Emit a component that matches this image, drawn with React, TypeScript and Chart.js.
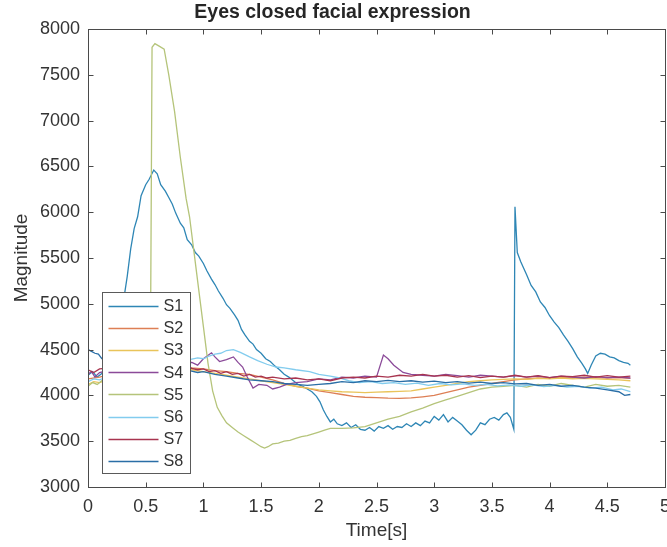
import React, { useEffect, useRef } from 'react';
import { Chart, registerables } from 'chart.js';

Chart.register(...registerables);

const TITLE = 'Eyes closed facial expression';
const X_LABEL = 'Time[s]';
const Y_LABEL = 'Magnitude';
const SERIES_NAMES = ['S1', 'S2', 'S3', 'S4', 'S5', 'S6', 'S7', 'S8'];
const SERIES_COLORS = ['#2e86b5', '#dd7f55', '#e9c45a', '#8b4a99', '#b5c47a', '#82ccee', '#a8344f', '#2a6ea6'];
const X_TICKS = [0, 0.5, 1, 1.5, 2, 2.5, 3, 3.5, 4, 4.5, 5];
const Y_TICKS = [3000, 3500, 4000, 4500, 5000, 5500, 6000, 6500, 7000, 7500, 8000];

// [time (s), magnitude]
const S1: number[][] = [[0,4220],[0.04,4260],[0.08,4200],[0.12,4240],[0.16,4280],[0.2,4330],[0.24,4500],[0.28,4800],[0.31,5050],[0.34,5300],[0.37,5600],[0.4,5820],[0.43,5950],[0.46,6180],[0.5,6300],[0.53,6360],[0.57,6460],[0.6,6420],[0.63,6300],[0.67,6230],[0.7,6160],[0.73,6090],[0.76,5990],[0.8,5880],[0.83,5830],[0.86,5700],[0.9,5640],[0.93,5560],[0.96,5520],[1.0,5440],[1.03,5360],[1.07,5270],[1.1,5210],[1.13,5140],[1.17,5060],[1.2,4990],[1.23,4950],[1.27,4880],[1.3,4820],[1.33,4720],[1.36,4660],[1.4,4590],[1.43,4560],[1.46,4500],[1.5,4460],[1.54,4400],[1.58,4370],[1.62,4320],[1.66,4280],[1.7,4230],[1.74,4200],[1.78,4160],[1.82,4120],[1.86,4100],[1.9,4070],[1.94,4040],[1.98,3990],[2.01,3930],[2.04,3840],[2.07,3770],[2.1,3710],[2.13,3740],[2.16,3690],[2.2,3670],[2.24,3700],[2.28,3650],[2.32,3680],[2.36,3630],[2.4,3620],[2.44,3650],[2.48,3610],[2.52,3660],[2.56,3640],[2.6,3670],[2.64,3630],[2.68,3660],[2.72,3650],[2.76,3690],[2.8,3660],[2.84,3700],[2.88,3670],[2.92,3720],[2.96,3700],[3.0,3770],[3.04,3730],[3.08,3790],[3.12,3710],[3.16,3760],[3.2,3720],[3.24,3680],[3.28,3620],[3.32,3570],[3.36,3620],[3.4,3700],[3.44,3680],[3.48,3740],[3.52,3760],[3.56,3730],[3.6,3790],[3.63,3810],[3.66,3760],[3.69,3630],[3.7,6060],[3.72,5560],[3.75,5460],[3.8,5320],[3.84,5200],[3.88,5130],[3.92,5020],[3.96,4960],[4.0,4870],[4.04,4800],[4.08,4740],[4.12,4660],[4.16,4590],[4.2,4510],[4.24,4420],[4.28,4350],[4.31,4290],[4.33,4240],[4.36,4330],[4.4,4430],[4.44,4460],[4.48,4450],[4.52,4420],[4.56,4410],[4.6,4380],[4.64,4360],[4.68,4350],[4.7,4330]];
const S2: number[][] = [[0,4180],[0.1,4200],[0.2,4230],[0.3,4260],[0.4,4280],[0.5,4300],[0.6,4320],[0.7,4310],[0.8,4330],[0.9,4300],[1.0,4290],[1.1,4270],[1.2,4260],[1.3,4240],[1.4,4230],[1.5,4200],[1.6,4170],[1.7,4130],[1.8,4100],[1.9,4080],[2.0,4050],[2.1,4030],[2.2,4010],[2.3,3990],[2.4,3980],[2.5,3975],[2.6,3970],[2.7,3968],[2.8,3972],[2.9,3985],[3.0,4000],[3.1,4030],[3.2,4060],[3.3,4090],[3.4,4110],[3.5,4130],[3.6,4150],[3.7,4170],[3.8,4180],[3.9,4190],[4.0,4185],[4.1,4195],[4.2,4190],[4.3,4200],[4.4,4195],[4.5,4190],[4.6,4195],[4.7,4185]];
const S3: number[][] = [[0,4120],[0.05,4150],[0.1,4140],[0.2,4180],[0.3,4200],[0.4,4230],[0.5,4250],[0.6,4270],[0.7,4280],[0.8,4290],[0.9,4280],[1.0,4260],[1.1,4240],[1.2,4220],[1.3,4200],[1.4,4180],[1.5,4160],[1.6,4140],[1.7,4120],[1.8,4100],[1.9,4080],[2.0,4060],[2.1,4050],[2.2,4040],[2.3,4035],[2.4,4030],[2.5,4035],[2.6,4040],[2.7,4045],[2.8,4050],[2.9,4070],[3.0,4090],[3.1,4110],[3.2,4130],[3.3,4150],[3.4,4160],[3.5,4170],[3.6,4175],[3.7,4180],[3.8,4175],[3.9,4185],[4.0,4180],[4.1,4190],[4.2,4180],[4.3,4185],[4.4,4180],[4.5,4175],[4.6,4170],[4.7,4160]];
const S4: number[][] = [[0,4230],[0.03,4260],[0.06,4200],[0.1,4250],[0.2,4280],[0.3,4300],[0.4,4310],[0.5,4300],[0.6,4320],[0.7,4330],[0.8,4350],[0.9,4360],[0.95,4330],[1.0,4400],[1.07,4465],[1.1,4420],[1.14,4370],[1.2,4390],[1.26,4420],[1.3,4360],[1.34,4310],[1.38,4200],[1.43,4080],[1.48,4120],[1.55,4110],[1.6,4070],[1.66,4090],[1.72,4120],[1.8,4140],[1.9,4150],[2.0,4180],[2.1,4170],[2.2,4200],[2.3,4190],[2.4,4210],[2.5,4200],[2.56,4440],[2.6,4400],[2.65,4330],[2.73,4250],[2.8,4230],[2.9,4220],[3.0,4210],[3.1,4230],[3.2,4215],[3.3,4200],[3.4,4220],[3.5,4210],[3.6,4200],[3.7,4215],[3.8,4200],[3.9,4210],[4.0,4195],[4.1,4210],[4.2,4200],[4.3,4190],[4.4,4205],[4.5,4195],[4.6,4200],[4.7,4190]];
const S5: number[][] = [[0,4100],[0.04,4140],[0.08,4120],[0.12,4160],[0.2,4170],[0.3,4190],[0.4,4210],[0.5,4230],[0.54,4250],[0.555,7800],[0.58,7840],[0.62,7810],[0.66,7780],[0.7,7500],[0.75,7100],[0.8,6600],[0.85,6150],[0.88,5950],[0.92,5550],[0.96,5150],[1.0,4750],[1.04,4350],[1.08,4050],[1.12,3870],[1.16,3780],[1.2,3700],[1.25,3650],[1.3,3600],[1.35,3560],[1.4,3520],[1.45,3480],[1.5,3440],[1.53,3425],[1.56,3440],[1.6,3470],[1.65,3480],[1.7,3500],[1.75,3510],[1.8,3530],[1.85,3550],[1.9,3560],[1.95,3580],[2.0,3600],[2.05,3620],[2.1,3640],[2.2,3640],[2.3,3645],[2.4,3660],[2.5,3700],[2.6,3740],[2.7,3770],[2.8,3820],[2.9,3860],[3.0,3910],[3.1,3950],[3.2,3990],[3.3,4030],[3.4,4070],[3.5,4090],[3.6,4100],[3.7,4110],[3.8,4090],[3.9,4120],[4.0,4100],[4.1,4130],[4.2,4110],[4.3,4090],[4.4,4120],[4.5,4100],[4.6,4110],[4.7,4090]];
const S6: number[][] = [[0,4150],[0.05,4180],[0.1,4170],[0.2,4220],[0.3,4260],[0.4,4300],[0.5,4330],[0.6,4350],[0.7,4370],[0.8,4380],[0.88,4390],[0.95,4410],[1.0,4400],[1.05,4430],[1.1,4450],[1.15,4460],[1.2,4490],[1.26,4500],[1.32,4470],[1.4,4420],[1.47,4380],[1.55,4340],[1.63,4310],[1.7,4300],[1.8,4280],[1.92,4260],[2.0,4230],[2.1,4210],[2.18,4190],[2.26,4160],[2.35,4140],[2.45,4150],[2.55,4130],[2.65,4140],[2.75,4120],[2.85,4135],[2.95,4110],[3.05,4130],[3.15,4115],[3.25,4125],[3.35,4110],[3.45,4120],[3.55,4105],[3.65,4115],[3.75,4100],[3.85,4115],[3.95,4095],[4.05,4110],[4.15,4090],[4.25,4100],[4.35,4080],[4.45,4090],[4.55,4060],[4.62,4070],[4.7,4040]];
const S7: number[][] = [[0,4280],[0.05,4250],[0.1,4290],[0.2,4300],[0.3,4310],[0.4,4320],[0.5,4300],[0.6,4320],[0.7,4310],[0.8,4320],[0.88,4300],[0.95,4280],[1.0,4290],[1.05,4260],[1.1,4270],[1.15,4240],[1.2,4260],[1.25,4230],[1.3,4240],[1.35,4210],[1.4,4230],[1.45,4200],[1.5,4210],[1.55,4190],[1.6,4200],[1.7,4180],[1.8,4190],[1.9,4170],[2.0,4180],[2.1,4160],[2.2,4190],[2.3,4200],[2.4,4190],[2.5,4210],[2.6,4200],[2.7,4220],[2.8,4210],[2.9,4230],[3.0,4210],[3.1,4220],[3.2,4200],[3.3,4215],[3.4,4195],[3.5,4210],[3.6,4200],[3.7,4220],[3.8,4200],[3.9,4215],[4.0,4195],[4.1,4210],[4.2,4205],[4.3,4220],[4.4,4200],[4.5,4215],[4.6,4200],[4.7,4210]];
const S8: number[][] = [[0,4500],[0.03,4480],[0.06,4460],[0.09,4450],[0.12,4400],[0.2,4380],[0.3,4350],[0.4,4330],[0.5,4310],[0.6,4300],[0.7,4290],[0.8,4280],[0.88,4270],[0.95,4250],[1.0,4260],[1.1,4230],[1.2,4210],[1.3,4190],[1.4,4170],[1.5,4160],[1.6,4150],[1.7,4130],[1.8,4120],[1.9,4110],[2.0,4120],[2.1,4130],[2.2,4150],[2.3,4140],[2.4,4160],[2.5,4150],[2.6,4165],[2.7,4150],[2.8,4160],[2.9,4145],[3.0,4155],[3.1,4140],[3.2,4150],[3.3,4135],[3.4,4145],[3.5,4130],[3.6,4140],[3.7,4125],[3.8,4130],[3.9,4110],[4.0,4120],[4.1,4100],[4.2,4110],[4.3,4090],[4.4,4080],[4.5,4060],[4.6,4040],[4.65,4000],[4.7,4010]];

const SERIES = [S1, S2, S3, S4, S5, S6, S7, S8];

const FONT = "'Liberation Sans', Arial, Helvetica, sans-serif";
const TEXT = '#333333';
const AXIS = '#4a4a4a';

const matlabPlugin = {
  id: 'matlabBox',
  afterDatasetsDraw(chart: any) {
    const { ctx, chartArea: a, scales } = chart;
    const L = Math.round(a.left) + 0.5;
    const R = Math.round(a.right) + 0.5;
    const T = Math.round(a.top) + 0.5;
    const B = Math.round(a.bottom) + 0.5;
    ctx.save();
    // legend (southwest, inside axes)
    const rowH = 22.2;
    const lw = 88;
    const lh = rowH * SERIES_NAMES.length + 3;
    const lx = Math.round(a.left + 14) + 0.5;
    const ly = Math.round(a.bottom - 14 - lh) + 0.5;
    ctx.fillStyle = '#ffffff';
    ctx.fillRect(lx, ly, lw, lh);
    ctx.strokeStyle = '#5a5a5a';
    ctx.lineWidth = 1;
    ctx.strokeRect(lx, ly, lw, Math.round(lh));
    ctx.font = `16.2px ${FONT}`;
    ctx.textBaseline = 'middle';
    ctx.textAlign = 'left';
    chart.data.datasets.forEach((ds: any, i: number) => {
      const cy = ly + 13 + i * rowH;
      ctx.strokeStyle = ds.borderColor;
      ctx.lineWidth = 1.3;
      ctx.beginPath();
      ctx.moveTo(lx + 6, Math.round(cy) + 0.5);
      ctx.lineTo(lx + 56, Math.round(cy) + 0.5);
      ctx.stroke();
      ctx.fillStyle = TEXT;
      ctx.fillText(ds.label, lx + 61, cy + 1);
    });
    // axes box
    ctx.strokeStyle = AXIS;
    ctx.lineWidth = 1;
    ctx.strokeRect(L, T, R - L, B - T);
    const tl = 5;
    ctx.beginPath();
    for (const t of X_TICKS) {
      const x = Math.round(scales.x.getPixelForValue(t)) + 0.5;
      ctx.moveTo(x, B); ctx.lineTo(x, B - tl);
      ctx.moveTo(x, T); ctx.lineTo(x, T + tl);
    }
    for (const v of Y_TICKS) {
      const y = Math.round(scales.y.getPixelForValue(v)) + 0.5;
      ctx.moveTo(L, y); ctx.lineTo(L + tl, y);
      ctx.moveTo(R, y); ctx.lineTo(R - tl, y);
    }
    ctx.stroke();
    ctx.restore();
  },
};

export default function App() {
  const ref = useRef<HTMLCanvasElement | null>(null);
  useEffect(() => {
    const canvas = ref.current;
    if (!canvas) return;
    const chart = new Chart(canvas, {
      type: 'line',
      data: {
        datasets: SERIES.map((s, i) => ({
          label: SERIES_NAMES[i],
          data: s.map(([t, v]) => ({ x: t, y: v })),
          borderColor: SERIES_COLORS[i],
          backgroundColor: SERIES_COLORS[i],
          borderWidth: 1.3,
          pointRadius: 0,
          tension: 0,
          fill: false,
          order: SERIES_NAMES.length - i,
        })),
      },
      options: {
        animation: false,
        responsive: false,
        devicePixelRatio: 1,
        layout: { padding: { left: 0, right: 15, top: 0, bottom: 0 } },
        plugins: {
          legend: { display: false },
          tooltip: { enabled: false },
          title: {
            display: true,
            text: TITLE,
            color: '#262626',
            font: { family: FONT, size: 19.5, weight: 'bold' },
            padding: { top: 1.3, bottom: 4.3 },
          },
        },
        scales: {
          x: {
            type: 'linear',
            min: 0,
            max: 5,
            grid: { display: false, drawTicks: false },
            border: { display: false },
            afterBuildTicks: (s: any) => { s.ticks = X_TICKS.map((v) => ({ value: v })); },
            afterFit: (s: any) => { s.height = 60; },
            ticks: { color: TEXT, font: { family: FONT, size: 18 }, padding: 9, maxRotation: 0, autoSkip: false, callback: (v: any) => String(v) },
            title: { display: true, text: X_LABEL, color: TEXT, font: { family: FONT, size: 19 }, padding: { top: 0, bottom: 4.6 } },
          },
          y: {
            type: 'linear',
            min: 3000,
            max: 8000,
            grid: { display: false, drawTicks: false },
            border: { display: false },
            afterBuildTicks: (s: any) => { s.ticks = Y_TICKS.map((v) => ({ value: v })); },
            afterFit: (s: any) => { s.width = 88; },
            ticks: { color: TEXT, font: { family: FONT, size: 18 }, padding: 8, callback: (v: any) => String(v) },
            title: { display: true, text: Y_LABEL, color: TEXT, font: { family: FONT, size: 19 }, padding: { top: 10, bottom: 0 } },
          },
        },
      },
      plugins: [matlabPlugin],
    } as any);
    return () => chart.destroy();
  }, []);
  return (
    <div style={{ position: 'fixed', left: 0, top: 0, width: 680, height: 547, background: '#fff' }}>
      <canvas ref={ref} width={680} height={547} style={{ width: 680, height: 547, display: 'block' }} />
    </div>
  );
}
